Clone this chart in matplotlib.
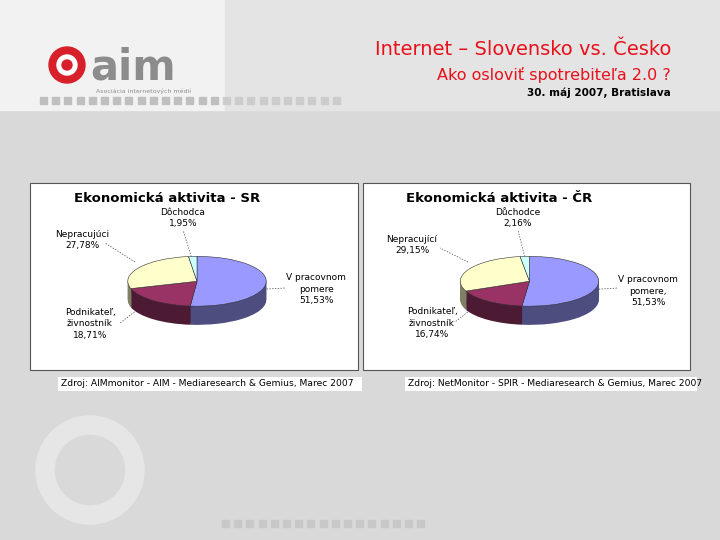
import matplotlib
matplotlib.use("Agg")
import matplotlib.pyplot as plt
from matplotlib.patches import Rectangle, Circle
import numpy as np

categories_sr = ["V pracovnom\npomere", "Podnikateľ,\nživnostník", "Nepracujúci", "Dôchodca"]
values_sr = [51.53, 18.71, 27.78, 1.95]
labels_sr = ["51,53%", "18,71%", "27,78%", "1,95%"]
categories_cr = ["V pracovnom\npomere,", "Podnikateľ,\nživnostník", "Nepracující", "Důchodce"]
values_cr = [51.53, 16.74, 29.15, 2.16]
labels_cr = ["51,53%", "16,74%", "29,15%", "2,16%"]
top_colors = ["#9999FF", "#993366", "#FFFFCC", "#CCFFFF"]
side_colors = ["#4D4D80", "#4D1A33", "#808066", "#668080"]

W, H = 720, 540
fig = plt.figure(figsize=(7.2, 5.4), dpi=100)
fig.patch.set_facecolor("#d9d9d9")
bg = fig.add_axes([0, 0, 1, 1])
bg.set_xlim(0, W); bg.set_ylim(H, 0); bg.axis("off")
bg.add_patch(Rectangle((0, 0), 225, 110, color="#f2f2f2"))
bg.add_patch(Rectangle((225, 0), 495, 110, color="#e4e4e4"))
# logo
bg.add_patch(Circle((67, 65), 18, color="#d8202a"))
bg.add_patch(Circle((67, 65), 10, color="white"))
bg.add_patch(Circle((67, 65), 5, color="#d8202a"))
bg.text(90, 80, "aim", fontsize=30, fontweight="bold", color="#8c8c8c", family="DejaVu Sans", va="baseline")
bg.text(96, 91, "Asociácia internetových médií", fontsize=4.5, color="#8c8c8c", va="center")
for i in range(25):
    bg.add_patch(Rectangle((40 + i * 12.2, 97), 7, 7, color="#bfbfbf" if i < 15 else "#cccccc"))
for i in range(17):
    bg.add_patch(Rectangle((222 + i * 12.2, 520), 7, 7, color="#c8c8c8"))
bg.add_patch(Circle((90, 470), 45, fill=False, lw=14, ec="#e6e6e6"))
bg.text(671, 55, "Internet – Slovensko vs. Česko", fontsize=14, color="#e8101a", ha="right")
bg.text(671, 80, "Ako osloviť spotrebiteľa 2.0 ?", fontsize=11.5, color="#e8101a", ha="right")
bg.text(671, 96, "30. máj 2007, Bratislava", fontsize=7.5, color="black", ha="right", fontweight="bold")

def chart(x0, x1, sx0, sx1, title, cats, vals, labs, src, lab_pos, anchors):
    bg.add_patch(Rectangle((x0, 183), x1 - x0, 187, fc="white", ec="#555555", lw=0.8))
    bg.add_patch(Rectangle((sx0, 377), sx1 - sx0, 14, fc="white", ec="none"))
    bg.text(sx0 + 3, 384, src, fontsize=6.6, va="center")
    bg.text((x0 + x1) / 2 - 27, 198, title, fontsize=9.5, fontweight="bold", ha="center", va="center")
    cx = (x0 + x1) / 2 + 3
    ax = fig.add_axes([(cx - 90) / W, 1 - 335 / H, 180 / W, 100 / H])
    for k in np.linspace(-0.75, -0.02, 20):
        ax.pie(vals, colors=side_colors, startangle=90, counterclock=False, center=(0, k),
               wedgeprops=dict(lw=0), radius=1, frame=True)
    ax.pie(vals, colors=top_colors, startangle=90, counterclock=False, center=(0, 0),
           wedgeprops=dict(lw=0.4, ec="#333333"), radius=1, frame=True)
    ax.set_xlim(-1.3, 1.3); ax.set_ylim(-1.4, 1.1)
    ax.set_aspect(0.36, adjustable="box")
    ax.axis("off")
    for (c, l, (tx, ty, ha), (ax_, ay_)) in zip(cats, labs, lab_pos, anchors):
        bg.text(tx, ty, c + "\n" + l, fontsize=6.5, ha=ha, va="center", linespacing=1.4)
        bg.plot([ax_[0], ay_[0]], [ax_[1], ay_[1]], ls=(0, (2, 2)), lw=0.5, color="#444444")

chart(30, 358, 58, 362, "Ekonomická aktivita - SR", categories_sr, values_sr, labels_sr,
      "Zdroj: AIMmonitor - AIM - Mediaresearch & Gemius, Marec 2007",
      [(316, 289, "center"), (90, 324, "center"), (82, 240, "center"), (183, 218, "center")],
      [((250, 290), (285, 288)), ((150, 300), (120, 323)), ((135, 262), (105, 243)), ((193, 262), (183, 230))])
chart(363, 690, 405, 697, "Ekonomická aktivita - ČR", categories_cr, values_cr, labels_cr,
      "Zdroj: NetMonitor - SPIR - Mediaresearch & Gemius, Marec 2007",
      [(648, 291, "center"), (432, 323, "center"), (412, 245, "center"), (518, 218, "center")],
      [((585, 290), (618, 288)), ((483, 300), (455, 322)), ((468, 262), (440, 248)), ((526, 262), (518, 230))])

fig.savefig("out.png", dpi=100, facecolor=fig.get_facecolor())
